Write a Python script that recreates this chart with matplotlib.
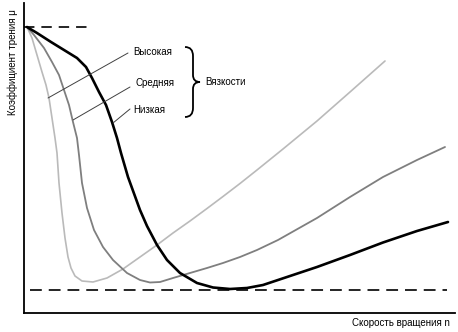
import matplotlib
matplotlib.use("Agg")
import matplotlib.pyplot as plt
from matplotlib.path import Path
from matplotlib.patches import PathPatch

plt.rcParams['font.family'] = ['Liberation Sans', 'DejaVu Sans']
plt.rcParams['lines.scale_dashes'] = False

# Speed n (arbitrary units) and friction coefficient mu (arbitrary units)
high_n  = [3, 8, 13, 18, 22, 25, 28, 31, 33, 35, 38, 41, 44, 47, 51, 58, 69, 83, 99,
           116, 133, 149, 166, 183, 199, 216, 233, 259, 293, 326, 361]
high_mu = [286, 275, 258, 241, 228, 215, 195, 175, 160, 130, 100, 75, 56, 45, 37, 32, 31, 35, 44,
           56, 68, 80, 92, 104.5, 116.5, 129.5, 143, 164, 192, 221, 252]

mid_n  = [3, 10, 20, 28, 35, 40, 45, 49, 53, 55, 58, 63, 70, 79, 89, 103, 116, 126, 136,
          149, 166, 183, 199, 216, 233, 254, 293, 326, 359, 393, 421]
mid_mu = [286, 278, 265, 251, 238, 223, 208, 191, 175, 158, 130, 105, 83, 66, 53, 40, 33, 30.5, 31,
          35, 40, 45, 50, 56, 63, 73, 95, 116, 136, 153, 166]

low_n  = [3, 13, 27, 40, 53, 62, 68, 75, 82, 88, 93, 97, 104, 116, 123, 133, 143, 156,
          173, 189, 206, 223, 239, 254, 293, 326, 359, 393, 424]
low_mu = [286, 280, 271, 263, 255, 246, 235, 221, 208, 191, 175, 160, 136, 103, 87, 68, 53, 40,
          30, 25.5, 24, 25, 28, 33, 46, 58, 70.5, 82, 91]

mu_start = 286
mu_min = 23

labels = ["Высокая", "Средняя", "Низкая"]
group_label = "Вязкости"
xlabel = "Скорость вращения n"
ylabel = "Коэффициент трения μ"

W, H = 458, 332
fig = plt.figure(figsize=(W / 100, H / 100), dpi=100)
ax = fig.add_axes([24 / W, (H - 313) / H, 431 / W, 310 / H])
ax.set_xlim(0, 431)
ax.set_ylim(0, 310)
ax.set_xticks([])
ax.set_yticks([])
for s in ['top', 'right']:
    ax.spines[s].set_visible(False)
for s in ['left', 'bottom']:
    ax.spines[s].set_linewidth(1.3)
    ax.spines[s].set_color('black')

ax.plot(high_n, high_mu, color='#bababa', lw=1.2, solid_capstyle='round', solid_joinstyle='round')
ax.plot(mid_n, mid_mu, color='#7f7f7f', lw=1.3, solid_capstyle='round', solid_joinstyle='round')
ax.plot(low_n, low_mu, color='black', lw=1.9, solid_capstyle='round', solid_joinstyle='round')

ax.plot([0, 68], [mu_start, mu_start], color='black', lw=1.2, dashes=(7.5, 5))
ax.plot([6, 423], [mu_min, mu_min], color='black', lw=1.2, dashes=(8.5, 5))

fs = 7
ann = dict(arrowprops=dict(arrowstyle='-', color='#404040', lw=0.7, shrinkA=0, shrinkB=0),
           fontsize=fs, ha='left', va='center')
ax.annotate("", xy=(24, 215), xytext=(104, 260), **ann)
ax.annotate("", xy=(49, 193), xytext=(106, 226), **ann)
ax.annotate("", xy=(89, 190), xytext=(106, 204), **ann)
ax.text(109, 261, labels[0], fontsize=fs, ha='left', va='center')
ax.text(111, 230, labels[1], fontsize=fs, ha='left', va='center')
ax.text(109, 203, labels[2], fontsize=fs, ha='left', va='center')

# brace
verts = [(161, 266), (169, 266), (169, 257),
         (169, 238),
         (169, 231), (176, 231),
         (169, 231), (169, 224),
         (169, 205),
         (169, 196), (161, 196)]
codes = [Path.MOVETO, Path.CURVE3, Path.CURVE3,
         Path.LINETO,
         Path.CURVE3, Path.CURVE3,
         Path.CURVE3, Path.CURVE3,
         Path.LINETO,
         Path.CURVE3, Path.CURVE3]
ax.add_patch(PathPatch(Path(verts, codes), fill=False, lw=1.3, color='black'))
ax.text(181, 231, group_label, fontsize=fs, ha='left', va='center')

fig.text(450 / W, 1 - 323 / H, xlabel, fontsize=fs, ha='right', va='center')
fig.text(13 / W, 1 - 62 / H, ylabel, fontsize=fs, ha='center', va='center', rotation=90)

fig.savefig("out.png", dpi=100)
